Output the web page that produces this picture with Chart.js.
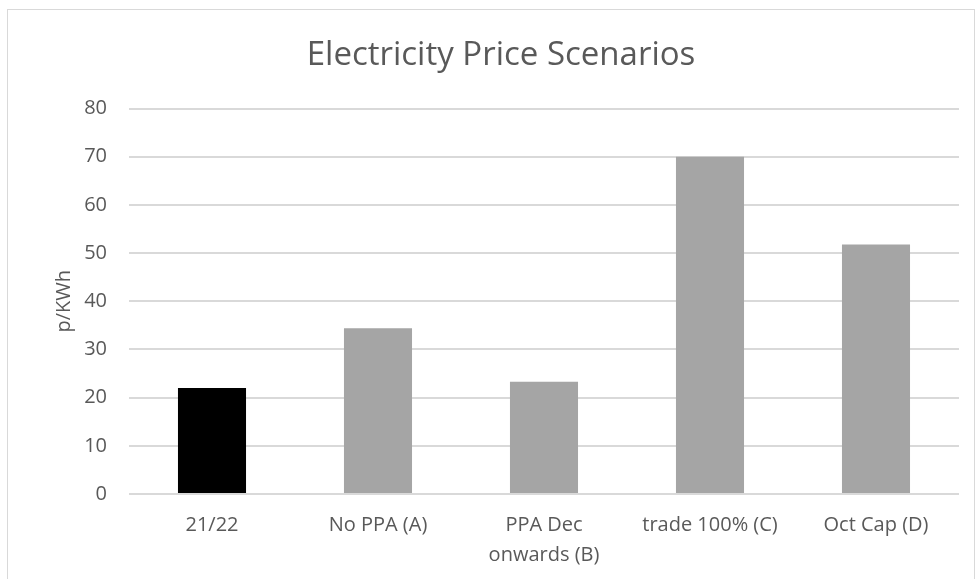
<!DOCTYPE html>
<html lang="en">
<head>
    <meta charset="UTF-8">
    <title>Electricity Price Scenarios</title>
    <script src="https://cdn.jsdelivr.net/npm/chart.js"></script>
    <style>
        body {
            margin: 0;
            background: #ffffff;
            overflow: hidden;
        }
        #frame {
            position: absolute;
            left: 7px;
            top: 9px;
            width: 966px;
            height: 600px;
            border: 1px solid #d9d9d9;
        }
        #wrap {
            position: relative;
            width: 966px;
            height: 600px;
        }
    </style>
</head>
<body>
    <div id="frame">
        <div id="wrap">
            <canvas id="chart"></canvas>
        </div>
    </div>

    <script>
        // datos
        const categorias = ['21/22', 'No PPA (A)', ['PPA Dec', 'onwards (B)'], 'trade 100% (C)', 'Oct Cap (D)'];
        const precios = [22, 34.4, 23.3, 70, 51.8];
        const colores = ['#000000', '#a5a5a5', '#a5a5a5', '#a5a5a5', '#a5a5a5'];
        const ticksY = [0, 10, 20, 30, 40, 50, 60, 70, 80];

        const gris = '#595959';
        const fuente = "'Open Sans', sans-serif";

        const ctx = document.getElementById('chart').getContext('2d');
        new Chart(ctx, {
            type: 'bar',
            data: {
                labels: categorias,
                datasets: [{
                    label: 'p/KWh',
                    data: precios,
                    backgroundColor: colores,
                    borderWidth: 0,
                    categoryPercentage: 1,
                    barPercentage: 0.41
                }]
            },
            options: {
                responsive: true,
                maintainAspectRatio: false,
                animation: false,
                layout: {
                    padding: { left: 35, right: 15, top: 0, bottom: 20 }
                },
                scales: {
                    y: {
                        min: 0,
                        max: 80,
                        afterBuildTicks: axis => {
                            axis.ticks = ticksY.map(v => ({ value: v }));
                        },
                        afterFit: axis => { axis.width = 86; },
                        border: { display: false },
                        grid: {
                            color: '#d9d9d9',
                            lineWidth: 2,
                            drawTicks: false
                        },
                        ticks: {
                            color: gris,
                            padding: 22,
                            font: { family: fuente, size: 20 }
                        },
                        title: {
                            display: true,
                            text: 'p/KWh',
                            color: gris,
                            font: { family: fuente, size: 20 },
                            padding: { top: 9, bottom: 0 }
                        }
                    },
                    x: {
                        afterFit: axis => { axis.height = 96; },
                        border: { display: false },
                        grid: { display: false },
                        ticks: {
                            color: gris,
                            padding: 8,
                            maxRotation: 0,
                            autoSkip: false,
                            font: { family: fuente, size: 20, lineHeight: 1.5 }
                        }
                    }
                },
                plugins: {
                    legend: { display: false },
                    tooltip: { enabled: false },
                    title: {
                        display: true,
                        text: 'Electricity Price Scenarios',
                        color: gris,
                        font: { family: fuente, size: 33, weight: 'normal' },
                        padding: { top: 26, bottom: 33 }
                    }
                }
            }
        });
    </script>
</body>
</html>
